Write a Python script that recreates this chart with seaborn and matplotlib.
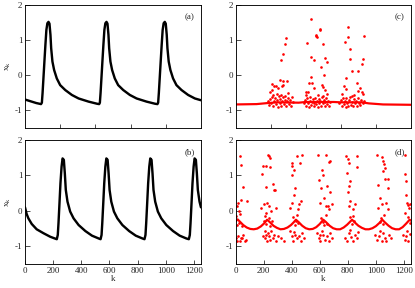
import numpy as np
import matplotlib
matplotlib.use("Agg")
import matplotlib.pyplot as plt
import seaborn as sns

# panel (a): regular spiking
ak = [0, 40, 80, 114, 120, 125, 131, 138, 145, 152, 159, 167, 174, 181, 186, 195, 207, 226, 250, 286, 333, 381, 452, 512,
      527, 532, 537, 543, 550, 557, 564, 571, 579, 586, 593, 598, 607, 619, 638, 662, 698, 745, 793, 864, 924,
      941, 946, 951, 957, 964, 971, 978, 985, 993, 1000, 1007, 1012, 1021, 1033, 1052, 1076, 1112, 1159, 1207, 1250]
ax_ = [-0.69, -0.74, -0.79, -0.82, -0.78, -0.50, -0.09, 0.39, 0.86, 1.29, 1.48, 1.52, 1.47, 1.15, 0.77, 0.39, 0.15, -0.09, -0.28, -0.42, -0.56, -0.66, -0.75, -0.81,
       -0.82, -0.78, -0.50, -0.09, 0.39, 0.86, 1.29, 1.48, 1.52, 1.47, 1.15, 0.77, 0.39, 0.15, -0.09, -0.28, -0.42, -0.56, -0.66, -0.75, -0.81,
       -0.82, -0.78, -0.50, -0.09, 0.39, 0.86, 1.29, 1.48, 1.52, 1.47, 1.15, 0.77, 0.39, 0.15, -0.09, -0.28, -0.42, -0.56, -0.66, -0.71]

# panel (b)
bk = [0, 12, 24, 48, 83, 131, 179, 219, 226,
      233, 238, 245, 252, 260, 267, 276, 283, 290, 302, 321, 345, 381, 429, 476, 524, 537,
      544, 549, 556, 563, 571, 578, 587, 594, 601, 613, 632, 656, 692, 740, 787, 835, 849,
      856, 861, 868, 875, 883, 890, 899, 906, 913, 925, 944, 968, 1004, 1052, 1099, 1147, 1164,
      1171, 1176, 1183, 1190, 1198, 1205, 1214, 1221, 1228, 1240, 1250]
bx = [0.10, -0.09, -0.21, -0.37, -0.52, -0.63, -0.73, -0.79, -0.80,
      -0.68, -0.35, 0.21, 0.78, 1.25, 1.48, 1.44, 1.06, 0.59, 0.26, -0.02, -0.21, -0.40, -0.57, -0.70, -0.78, -0.80,
      -0.68, -0.35, 0.21, 0.78, 1.25, 1.48, 1.44, 1.06, 0.59, 0.26, -0.02, -0.21, -0.40, -0.57, -0.70, -0.78, -0.80,
      -0.68, -0.35, 0.21, 0.78, 1.25, 1.48, 1.44, 1.06, 0.59, 0.26, -0.02, -0.21, -0.40, -0.57, -0.70, -0.78, -0.80,
      -0.68, -0.35, 0.21, 0.78, 1.25, 1.48, 1.44, 1.06, 0.59, 0.26, 0.10]

# panel (c): quiet band + scattered bursts
cbk = [0, 150, 230, 300, 450, 500, 700, 750, 900, 950, 1050, 1250]
cbx = [-0.83, -0.82, -0.79, -0.77, -0.78, -0.76, -0.76, -0.77, -0.77, -0.80, -0.83, -0.84]
ck = [232, 240, 248, 255, 262, 268, 275, 282, 288, 295, 300, 308, 314, 320, 326, 332, 338, 345, 350, 358, 365, 372, 380, 388, 398, 410,
      245, 257, 268, 273, 290, 297, 304, 314, 321, 328, 337, 340, 352, 356, 352, 335, 326, 366, 375, 399, 262,
      490, 497, 503, 510, 516, 522, 528, 533, 538, 545, 550, 556, 562, 568, 573, 580, 586, 592, 598, 604, 610, 615, 622, 628, 634, 640, 647, 653, 660, 668, 675,
      541, 600, 571, 578, 512, 626, 541, 559, 636, 650, 607, 633, 536, 524, 546, 614, 626, 559, 500, 519, 636, 650, 505, 590, 620, 575, 601,
      740, 748, 755, 762, 770, 777, 784, 790, 797, 804, 810, 817, 823, 830, 836, 843, 850, 857, 864, 872, 880, 888, 896, 905, 912,
      802, 798, 917, 779, 814, 905, 814, 902, 826, 874, 786, 769, 862, 784, 886, 869, 898, 905, 757, 829, 845]
cx = [-0.72, -0.85, -0.68, -0.80, -0.62, -0.88, -0.74, -0.66, -0.83, -0.70, -0.90, -0.60, -0.78, -0.68, -0.86, -0.72, -0.63, -0.81, -0.69, -0.88, -0.74, -0.65, -0.82, -0.70, -0.86, -0.75,
      -0.48, -0.26, -0.55, -0.30, -0.31, -0.52, -0.35, -0.14, -0.57, -0.31, -0.16, -0.29, -0.59, 1.05, 0.88, 0.60, 0.43, -0.16, -0.50, -0.62, -0.42,
      -0.78, -0.70, -0.86, -0.66, -0.80, -0.90, -0.72, -0.62, -0.84, -0.75, -0.68, -0.88, -0.78, -0.64, -0.83, -0.72, -0.90, -0.68, -0.80, -0.74, -0.86, -0.62, -0.78, -0.70, -0.88, -0.76, -0.66, -0.82, -0.72, -0.86, -0.77,
      1.59, 1.29, 1.12, 1.08, 0.91, 0.88, 0.53, 0.43, 0.50, 0.39, 0.24, 0.01, -0.04, -0.21, -0.21, -0.29, -0.33, -0.35, -0.47, -0.47, -0.42, -0.54, -0.57, -0.55, -0.58, 1.14, 1.33,
      -0.80, -0.70, -0.88, -0.66, -0.82, -0.74, -0.90, -0.64, -0.78, -0.86, -0.70, -0.62, -0.84, -0.76, -0.88, -0.68, -0.80, -0.72, -0.86, -0.66, -0.78, -0.84, -0.70, -0.80, -0.74,
      1.36, 1.08, 1.12, 0.95, 0.75, 0.46, 0.47, 0.32, 0.12, 0.12, -0.09, -0.30, -0.21, -0.39, -0.37, -0.45, -0.47, -0.54, -0.53, -0.59, -0.56]

# panel (d): scalloped band + scattered bursts
dbk = [0, 15, 30, 55, 80, 105, 130, 155, 180, 205, 225, 245, 270, 295, 320, 345, 370, 395, 415, 430, 450, 475, 500, 525, 550,
       575, 600, 625, 645, 670, 695, 720, 745, 770, 795, 815, 830, 850, 875, 900, 925, 950, 975, 1000, 1025, 1045, 1065,
       1090, 1115, 1140, 1165, 1190, 1215, 1240, 1250]
dbx = [-0.30, -0.24, -0.30, -0.40, -0.47, -0.51, -0.52, -0.50, -0.44, -0.35, -0.25, -0.32, -0.42, -0.48, -0.52, -0.51, -0.47, -0.40, -0.32, -0.25, -0.32, -0.42, -0.49, -0.52, -0.51,
       -0.46, -0.37, -0.25, -0.32, -0.42, -0.49, -0.52, -0.52, -0.47, -0.39, -0.31, -0.25, -0.33, -0.42, -0.48, -0.52, -0.52, -0.49, -0.43, -0.34, -0.25, -0.33,
       -0.42, -0.49, -0.52, -0.52, -0.46, -0.36, -0.25, -0.28]
dk = [31, 38, 54, 42, 19, 14, 82, 26, 7, 19, 38, 54, 66, 77, 12, 31, 49, 5, 22, 35, 45, 10,
      188, 195, 214, 230, 244, 241, 248, 214, 265, 282, 277, 183, 202, 225, 235, 214, 253, 289, 207, 218, 230, 242, 253, 265, 277, 289, 195, 225, 249, 300, 324, 347, 207, 210, 220, 238, 245, 260, 200,
      399, 401, 399, 413, 437, 476, 456, 422, 418, 399, 390, 453, 465, 448, 390, 399, 406, 422, 437, 453, 465, 476, 413, 488, 410, 425, 440, 448, 432,
      589, 641, 664, 671, 594, 617, 610, 624, 652, 676, 629, 657, 641, 601, 664, 688, 582, 594, 605, 624, 636, 652, 664, 676, 688, 617, 601, 612, 630, 645, 620, 655,
      798, 805, 864, 868, 790, 812, 805, 798, 817, 852, 805, 840, 797, 782, 793, 810, 822, 836, 852, 864, 875, 817, 815, 828, 840, 846,
      1009, 1040, 1047, 1059, 1063, 1051, 1012, 1087, 1063, 1083, 1028, 1040, 1016, 1070, 1087, 993, 1005, 1023, 1040, 1051, 1063, 1075, 1094, 1110, 1028, 1035, 1048, 1055, 1030,
      1204, 1209, 1211, 1216, 1220, 1227, 1235, 1204, 1192, 1204, 1216, 1227, 1239, 1220, 1245, 1230, 1242]
dx = [1.55, 1.30, 0.67, 0.31, 0.23, 0.13, 0.29, 0.00, -0.76, -0.72, -0.78, -0.67, -0.84, -0.81, -0.86, -0.84, -0.76, -0.15, -0.35, -0.10, -0.42, -0.40,
      1.03, 1.26, 1.26, 1.58, 1.48, 1.56, 1.25, 0.68, 0.75, 0.60, 0.58, 0.08, 0.18, 0.23, 0.13, -0.06, -0.01, 0.08, -0.58, -0.67, -0.62, -0.72, -0.58, -0.76, -0.67, -0.84, -0.72, -0.84, -0.81, -0.72, -0.78, -0.84, -0.78, -0.15, -0.38, -0.20, -0.42, -0.30, -0.30,
      1.36, 1.26, 1.01, 1.14, 1.55, 1.59, 1.34, 0.65, 0.44, 0.23, 0.08, 0.18, 0.27, 0.04, -0.58, -0.72, -0.84, -0.67, -0.78, -0.72, -0.84, -0.62, -0.59, -0.76, -0.18, -0.40, -0.12, -0.35, -0.28,
      1.58, 1.58, 1.39, 1.41, 0.86, 1.14, 0.65, 1.01, 0.70, 0.54, 0.37, 0.13, 0.15, 0.23, 0.04, 0.18, -0.62, -0.76, -0.86, -0.67, -0.81, -0.72, -0.84, -0.62, -0.78, -0.58, -0.69, -0.20, -0.40, -0.12, -0.32, -0.36,
      1.45, 1.36, 1.55, 1.24, 1.55, 0.84, 0.70, 0.54, 0.27, 0.18, 0.13, 0.04, 1.06, -0.76, -0.84, -0.62, -0.75, -0.84, -0.67, -0.78, -0.59, -0.53, -0.18, -0.38, -0.15, -0.30,
      1.58, 1.52, 1.42, 1.31, 1.22, 1.12, 0.73, 0.65, 0.89, 0.89, 0.37, 0.18, 0.08, 0.23, 0.04, -0.67, -0.81, -0.72, -0.84, -0.62, -0.76, -0.84, -0.67, -0.78, -0.58, -0.20, -0.38, -0.12, -0.32,
      1.59, 1.03, 0.84, 0.44, 0.23, 0.16, 0.08, -0.06, -0.67, -0.81, -0.72, -0.84, -0.65, -0.58, 0.20, -0.18, -0.35]

sns.set_style("ticks")
plt.rcParams['font.family'] = ['Liberation Serif', 'DejaVu Serif']
plt.rcParams['mathtext.fontset'] = 'custom'
plt.rcParams['mathtext.rm'] = 'Liberation Serif'
plt.rcParams['axes.unicode_minus'] = False

fs = 9
fig = plt.figure(figsize=(415 / 72, 288 / 72), dpi=72)
axa = fig.add_axes([0.0602, 0.5556, 0.424, 0.427])
axc = fig.add_axes([0.5675, 0.5556, 0.423, 0.427])
axb = fig.add_axes([0.0602, 0.0833, 0.424, 0.4306])
axd = fig.add_axes([0.5675, 0.0833, 0.423, 0.4306])

sns.lineplot(x=ak, y=ax_, ax=axa, color="black", linewidth=2.4, estimator=None)
sns.lineplot(x=bk, y=bx, ax=axb, color="black", linewidth=2.4, estimator=None)
sns.lineplot(x=cbk, y=cbx, ax=axc, color="red", linewidth=2.2, estimator=None)
sns.scatterplot(x=ck, y=cx, ax=axc, color="red", s=7, linewidth=0)
sns.lineplot(x=dbk, y=dbx, ax=axd, color="red", linewidth=2.2, estimator=None)
sns.scatterplot(x=dk, y=dx, ax=axd, color="red", s=7, linewidth=0)

for a, lab in [(axa, "(a)"), (axc, "(c)"), (axb, "(b)"), (axd, "(d)")]:
    a.set_xlim(0, 1250)
    a.set_ylim(-1.5, 2)
    a.set_yticks([-1, 0, 1, 2])
    a.set_yticklabels(["-1", "0", "1", "2"])
    a.tick_params(direction="in", length=4.5, width=0.8, labelsize=fs, pad=2.5)
    for s in a.spines.values():
        s.set_linewidth(0.9)
        s.set_color("black")
    a.text(0.965, 0.935, lab, transform=a.transAxes, ha="right", va="top", fontsize=fs)
    a.set_xlabel("")
    a.set_ylabel("")

for a in [axa, axc]:
    a.set_xticks([250, 500, 750, 1000])
    a.set_xticklabels([])
for a in [axb, axd]:
    a.set_xticks(range(0, 1201, 200))
    a.set_xlabel("k", fontsize=fs, labelpad=0)

axa.set_ylabel(r"x$_{\rm k}$", fontsize=fs, labelpad=2)
axb.set_ylabel(r"x$_{\rm k}$", fontsize=fs, labelpad=2)

fig.savefig("out.png", dpi=72)
